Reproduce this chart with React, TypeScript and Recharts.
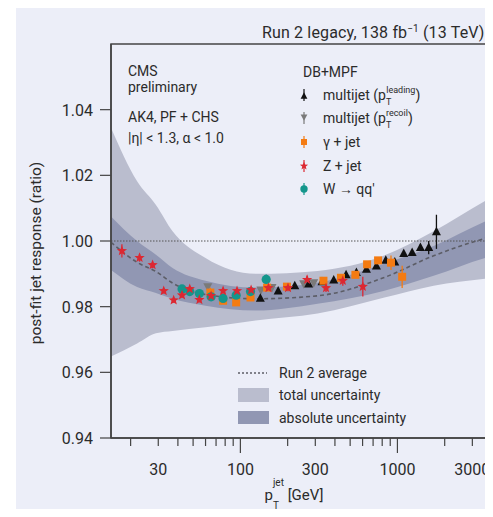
import React, { useEffect } from "react"
import {
  ComposedChart,
  Area,
  Line,
  Scatter,
  XAxis,
  YAxis,
  ReferenceLine,
  ReferenceArea,
  ErrorBar,
} from "recharts"

// bands and Run 2 average
const bandPt = [15, 22, 29, 37, 60, 125, 310, 815, 1700, 4100, 4500]
const totalHi = [1.0345, 1.0182, 1.011, 1.003, 0.9948, 0.99, 0.9909, 0.9955, 1.003, 1.0136, 1.0146]
const absHi = [1.0075, 1.0, 0.9958, 0.9918, 0.9879, 0.9858, 0.9873, 0.993, 0.9985, 1.007, 1.0077]
const average = [0.9996, 0.9935, 0.9907, 0.9872, 0.9837, 0.9824, 0.9833, 0.9888, 0.9955, 1.0015, 1.002]
const absLo = [0.9912, 0.986, 0.9842, 0.9824, 0.9803, 0.9788, 0.9809, 0.9848, 0.9894, 0.9955, 0.9959]
const totalLo = [0.9648, 0.9688, 0.9719, 0.9726, 0.9737, 0.9758, 0.9779, 0.9827, 0.9864, 0.9888, 0.989]

// multijet, leading jet pT
const leadPt = [134, 174, 222, 272, 331, 393, 471, 548, 635, 735, 843, 962, 1097, 1241, 1401, 1582, 1772]
const leadR = [0.9826, 0.9848, 0.9864, 0.9869, 0.9876, 0.9881, 0.9897, 0.9904, 0.9914, 0.9924, 0.9941, 0.9936, 0.9962, 0.9965, 0.998, 0.998, 1.0028]
const leadErr = [0.0006, 0.0006, 0.0006, 0.0006, 0.0006, 0.0006, 0.0006, 0.0006, 0.0006, 0.0006, 0.0006, 0.0006, 0.0008, 0.0008, 0.001, 0.002, 0.0052]

// multijet, recoil pT
const recoilPt = [62, 135, 159, 253, 293]
const recoilR = [0.9861, 0.9851, 0.9858, 0.987, 0.9873]
const recoilErr = [0.0008, 0.0006, 0.0006, 0.0006, 0.0006]

// gamma + jet
const gamPt = [64.4, 77.6, 94, 116, 148, 198, 338, 437, 540, 641, 753, 910, 1072]
const gamR = [0.9843, 0.9818, 0.9813, 0.9828, 0.9858, 0.9861, 0.9879, 0.9888, 0.9897, 0.9929, 0.9941, 0.9934, 0.9891]
const gamErr = [0.0015, 0.0008, 0.0008, 0.0008, 0.0008, 0.0008, 0.0008, 0.0008, 0.0008, 0.0008, 0.001, 0.0022, 0.0034]

// Z + jet
const zPt = [17.6, 22.8, 27.6, 32.5, 37.6, 42.5, 47.6, 54.8, 65.1, 77.6, 95.2, 117, 151, 201, 266, 351, 449, 602]
const zR = [0.997, 0.9949, 0.9927, 0.9848, 0.982, 0.9835, 0.9854, 0.9821, 0.9833, 0.9848, 0.9848, 0.9851, 0.9857, 0.9857, 0.9882, 0.9857, 0.9879, 0.9861]
const zErr = [0.002, 0.0012, 0.001, 0.0008, 0.0008, 0.0008, 0.0008, 0.0008, 0.0008, 0.0008, 0.0008, 0.0008, 0.0008, 0.001, 0.0012, 0.0012, 0.0015, 0.003]

// W -> qq'
const wPt = [42.5, 47.6, 54.8, 65.1, 77.6, 94, 116, 146]
const wR = [0.9854, 0.9846, 0.984, 0.983, 0.9825, 0.9835, 0.9846, 0.9883]
const wErr = [0.0008, 0.0008, 0.0008, 0.0008, 0.0008, 0.0008, 0.0008, 0.0015]

const xTicks = [20, 30, 40, 50, 60, 70, 80, 90, 100, 200, 300, 400, 500, 600, 700, 800, 900, 1000, 2000, 3000, 4000]
const xLabels = [30, 100, 300, 1000, 3000]
const yTicks = [0.94, 0.96, 0.98, 1.0, 1.02, 1.04]

const BG = "#eceef8"
const TOTAL = "#babdce"
const ABS = "#9197b3"
const INK = "#2b2b2b"
const FONT = "Roboto, 'Liberation Sans', sans-serif"

const C_LEAD = "#111111"
const C_RECOIL = "#7a7a7a"
const C_GAM = "#f47b12"
const C_Z = "#dc2832"
const C_W = "#14968c"

const bands = bandPt.map((pt, i) => ({
  pt,
  total: [totalLo[i], totalHi[i]],
  abs: [absLo[i], absHi[i]],
  avg: average[i],
}))

const points = (pt: number[], r: number[], err: number[]) =>
  pt.map((p, i) => ({ pt: p, r: r[i], err: err[i] }))

const lead = points(leadPt, leadR, leadErr)
const recoil = points(recoilPt, recoilR, recoilErr)
const gam = points(gamPt, gamR, gamErr)
const zjet = points(zPt, zR, zErr)
const wjet = points(wPt, wR, wErr)

function starPath(cx: number, cy: number, R: number, r: number) {
  let d = ""
  for (let i = 0; i < 10; i++) {
    const a = ((-90 + i * 36) * Math.PI) / 180
    const rad = i % 2 ? r : R
    d += (i ? "L" : "M") + (cx + rad * Math.cos(a)).toFixed(2) + "," + (cy + rad * Math.sin(a)).toFixed(2)
  }
  return d + "Z"
}

const Up = ({ cx, cy, s = 1, fill = C_LEAD }: any) => (
  <path d={`M${cx},${cy - 5 * s}L${cx - 4.5 * s},${cy + 3.5 * s}L${cx + 4.5 * s},${cy + 3.5 * s}Z`} fill={fill} />
)
const Down = ({ cx, cy, s = 1, fill = C_RECOIL }: any) => (
  <path d={`M${cx - 4.5 * s},${cy - 3.5 * s}L${cx + 4.5 * s},${cy - 3.5 * s}L${cx},${cy + 5 * s}Z`} fill={fill} />
)
const Square = ({ cx, cy, s = 1 }: any) => (
  <rect x={cx - 4 * s} y={cy - 4 * s} width={8 * s} height={8 * s} fill={C_GAM} />
)
const Star = ({ cx, cy, s = 1 }: any) => <path d={starPath(cx, cy, 5.4 * s, 2.3 * s)} fill={C_Z} />
const Dot = ({ cx, cy, s = 1 }: any) => <circle cx={cx} cy={cy} r={4.6 * s} fill={C_W} />

const XTick = ({ x, y, payload }: any) => {
  const v = payload.value
  const major = v === 100 || v === 1000
  return (
    <g>
      <line x1={x} x2={x} y1={y} y2={y + (major ? 15 : 8)} stroke="#444" strokeWidth={1.2} />
      {xLabels.includes(v) && (
        <text x={x} y={y + 37} textAnchor="middle" fontSize={16} fill={INK} fontFamily={FONT}>
          {v}
        </text>
      )}
    </g>
  )
}

const YTick = ({ x, y, payload }: any) => (
  <g>
    <line x1={x - 11} x2={x} y1={y} y2={y} stroke="#444" strokeWidth={1.2} />
    <text x={x - 18} y={y + 6} textAnchor="end" fontSize={16} fill={INK} fontFamily={FONT}>
      {payload.value.toFixed(2)}
    </text>
  </g>
)

const LegendMark = ({ y, color, children }: any) => (
  <g>
    <line x1={304} x2={304} y1={y - 6} y2={y + 6} stroke={color} strokeWidth={1.2} />
    {children}
  </g>
)

export default function App() {
  useEffect(() => {
    document.body.style.overflow = "hidden"
  }, [])

  return (
    <div
      style={{
        marginLeft: 8,
        marginBottom: -8,
        width: 477,
        height: 509,
        position: "relative",
        overflow: "hidden",
        background: BG,
        fontFamily: FONT,
      }}
    >
      <ComposedChart width={520} height={509} data={bands} margin={{ top: 36, right: 36, bottom: 29, left: 35 }}>
        <XAxis
          dataKey="pt"
          type="number"
          scale="log"
          domain={[15, 4500]}
          allowDataOverflow
          ticks={xTicks}
          interval={0}
          tick={<XTick />}
          tickSize={0}
          tickMargin={0}
          tickLine={false}
          axisLine={{ stroke: "#444", strokeWidth: 1.5 }}
          height={50}
        />
        <YAxis
          type="number"
          domain={[0.94, 1.06]}
          allowDataOverflow
          ticks={yTicks}
          interval={0}
          tick={<YTick />}
          tickSize={0}
          tickMargin={0}
          tickLine={false}
          axisLine={{ stroke: "#444", strokeWidth: 1.5 }}
          width={60}
        />
        <Area dataKey="total" type="monotone" fill={TOTAL} fillOpacity={1} stroke="none" isAnimationActive={false} />
        <Area dataKey="abs" type="monotone" fill={ABS} fillOpacity={1} stroke="none" isAnimationActive={false} />
        <ReferenceLine y={1} stroke="#555" strokeDasharray="1.5 1.5" strokeWidth={1} />
        <Line
          dataKey="avg"
          type="monotone"
          stroke="#5c5d66"
          strokeWidth={1.6}
          strokeDasharray="4 3"
          dot={false}
          activeDot={false}
          isAnimationActive={false}
        />
        <Scatter data={recoil} dataKey="r" shape={(p: any) => <Down cx={p.cx} cy={p.cy} />} isAnimationActive={false}>
          <ErrorBar dataKey="err" direction="y" width={0} stroke={C_RECOIL} strokeWidth={1.3} />
        </Scatter>
        <Scatter data={lead} dataKey="r" shape={(p: any) => <Up cx={p.cx} cy={p.cy} />} isAnimationActive={false}>
          <ErrorBar dataKey="err" direction="y" width={0} stroke={C_LEAD} strokeWidth={1.3} />
        </Scatter>
        <Scatter data={gam} dataKey="r" shape={(p: any) => <Square cx={p.cx} cy={p.cy} />} isAnimationActive={false}>
          <ErrorBar dataKey="err" direction="y" width={0} stroke={C_GAM} strokeWidth={1.3} />
        </Scatter>
        <Scatter data={wjet} dataKey="r" shape={(p: any) => <Dot cx={p.cx} cy={p.cy} />} isAnimationActive={false}>
          <ErrorBar dataKey="err" direction="y" width={0} stroke={C_W} strokeWidth={1.3} />
        </Scatter>
        <Scatter data={zjet} dataKey="r" shape={(p: any) => <Star cx={p.cx} cy={p.cy} />} isAnimationActive={false}>
          <ErrorBar dataKey="err" direction="y" width={0} stroke={C_Z} strokeWidth={1.3} />
        </Scatter>
        <ReferenceArea x1={15} x2={4500} y1={0.94} y2={1.06} fill="none" stroke="#444" strokeWidth={1.5} />
      </ComposedChart>

      <svg
        width={477}
        height={509}
        viewBox="16 8 477 509"
        style={{ position: "absolute", left: 0, top: 0, pointerEvents: "none" }}
        fontFamily={FONT}
        fill={INK}
      >
        <text x={262} y={38} fontSize={16} letterSpacing={0.15}>
          Run 2 legacy, 138 fb<tspan dy={-6} fontSize={10}>−1</tspan>
          <tspan dy={6}> (13 TeV)</tspan>
        </text>

        <text transform="translate(41,253) rotate(-90)" textAnchor="middle" fontSize={15.5}>
          post-fit jet response (ratio)
        </text>

        <text x={294} y={500} textAnchor="middle" fontSize={15}>
          p<tspan fontSize={10} dy={9}>T</tspan>
          <tspan fontSize={10} dx={-6} dy={-23}>jet</tspan>
          <tspan dy={14}> [GeV]</tspan>
        </text>

        <text x={128} y={76} fontSize={14}>CMS</text>
        <text x={128} y={92} fontSize={14}>preliminary</text>
        <text x={128} y={122} fontSize={14}>AK4, PF + CHS</text>
        <text x={128} y={143} fontSize={14}>|η| &lt; 1.3, α &lt; 1.0</text>

        <text x={303} y={77} fontSize={14}>DB+MPF</text>

        <LegendMark y={95} color={C_LEAD}>
          <Up cx={304} cy={96} s={0.75} />
        </LegendMark>
        <text x={323} y={100} fontSize={14}>
          multijet (p<tspan fontSize={9} dy={5}>T</tspan>
          <tspan fontSize={9} dx={-5} dy={-12}>leading</tspan>
          <tspan dy={7}>)</tspan>
        </text>

        <LegendMark y={118} color={C_RECOIL}>
          <Down cx={304} cy={117} s={0.75} />
        </LegendMark>
        <text x={323} y={123} fontSize={14}>
          multijet (p<tspan fontSize={9} dy={5}>T</tspan>
          <tspan fontSize={9} dx={-5} dy={-12}>recoil</tspan>
          <tspan dy={7}>)</tspan>
        </text>

        <LegendMark y={142} color={C_GAM}>
          <Square cx={304} cy={142} s={0.75} />
        </LegendMark>
        <text x={323} y={147} fontSize={14}>γ + jet</text>

        <LegendMark y={166} color={C_Z}>
          <Star cx={304} cy={166} s={0.8} />
        </LegendMark>
        <text x={323} y={171} fontSize={14}>Z + jet</text>

        <LegendMark y={189} color={C_W}>
          <Dot cx={304} cy={189} s={0.8} />
        </LegendMark>
        <text x={323} y={194} fontSize={14}>W → qq'</text>

        <line x1={238} x2={267} y1={373} y2={373} stroke="#5c5d66" strokeWidth={1.3} strokeDasharray="2 2" />
        <text x={279} y={378} fontSize={14}>Run 2 average</text>
        <rect x={238} y={388} width={31} height={14} fill={TOTAL} />
        <text x={279} y={400} fontSize={14}>total uncertainty</text>
        <rect x={238} y={411} width={31} height={13} fill={ABS} />
        <text x={279} y={423} fontSize={14}>absolute uncertainty</text>
      </svg>
    </div>
  )
}
